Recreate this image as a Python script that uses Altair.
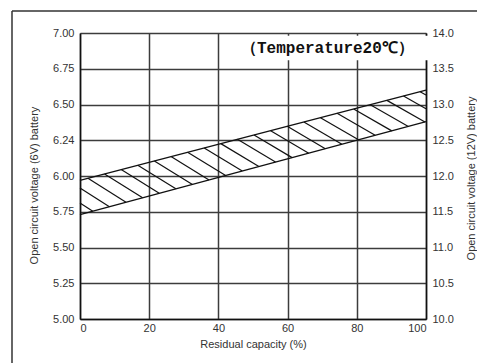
import altair as alt
import numpy as np
import pandas as pd

# Open-circuit voltage band of a 6 V battery against residual capacity
capacity_pct = [0, 100]
upper_6v = [5.97, 6.60]
lower_6v = [5.73, 6.38]

x_ticks = [0, 20, 40, 60, 80, 100]
y_ticks = [5.00, 5.25, 5.50, 5.75, 6.00, 6.25, 6.50, 6.75, 7.00]

title_text = "（Temperature20℃）"

band = pd.DataFrame({"cap": capacity_pct, "upper": upper_6v, "lower": lower_6v})
edges = pd.concat([
    pd.DataFrame({"cap": capacity_pct, "v": upper_6v, "edge": "upper"}),
    pd.DataFrame({"cap": capacity_pct, "v": lower_6v, "edge": "lower"}),
])


def upl(x):
    return upper_6v[0] + (upper_6v[1] - upper_6v[0]) * x / 100


def lo(x):
    return lower_6v[0] + (lower_6v[1] - lower_6v[0]) * x / 100


# Diagonal hatching between the two edges, clipped to the 0-100 % range
hatch_step = 4.8
hatch_run = 11.0
rows = []
for x0 in np.arange(2.3 - 3 * hatch_step, 100, hatch_step):
    x1 = x0 + hatch_run
    y0, y1 = upl(x0), lo(x1)
    t0 = max(0.0, (0 - x0) / hatch_run)
    t1 = min(1.0, (100 - x0) / hatch_run)
    if t0 >= t1:
        continue
    rows.append({
        "xa": x0 + t0 * hatch_run, "ya": y0 + t0 * (y1 - y0),
        "xb": x0 + t1 * hatch_run, "yb": y0 + t1 * (y1 - y0),
    })
hatch = pd.DataFrame(rows)

x_scale = alt.Scale(domain=[0, 100], nice=False, zero=False)
y_scale = alt.Scale(domain=[5, 7], nice=False, zero=False)

grid_color = "#3c3c3c"
label_font = "Liberation Sans"

x_axis = alt.Axis(values=x_ticks, grid=True, gridColor=grid_color, gridWidth=1.5,
                  domainColor="#111", domainWidth=1.5, ticks=False,
                  labelFont=label_font, labelFontSize=11, labelColor="#333",
                  labelPadding=3, title="Residual capacity (%)",
                  titleFont=label_font, titleFontSize=11, titleFontWeight="normal",
                  titleColor="#333", titlePadding=5)

y_left = alt.Axis(values=y_ticks, grid=True, gridColor=grid_color, gridWidth=1.5,
                  domainColor="#111", domainWidth=1.5, ticks=False,
                  labelFont=label_font, labelFontSize=11, labelColor="#333",
                  labelPadding=6,
                  labelExpr="datum.value == 6.25 ? '6.24' : format(datum.value, '.2f')",
                  title="Open circuit voltage (6V) battery",
                  titleFont=label_font, titleFontSize=11, titleFontWeight="normal",
                  titleColor="#333", titleAngle=270, titleX=-46, titleY=152,
                  titleAlign="center", titleBaseline="middle")

y_right = alt.Axis(orient="right", values=y_ticks, grid=False,
                   domainColor="#111", domainWidth=1.5, ticks=False,
                   labelFont=label_font, labelFontSize=11, labelColor="#333",
                   labelPadding=6,
                   labelExpr="format(datum.value * 2, '.1f')",
                   title="Open circuit voltage (12V) battery",
                   titleFont=label_font, titleFontSize=11, titleFontWeight="normal",
                   titleColor="#333", titleAngle=270, titleX=45, titleY=145,
                   titleAlign="center", titleBaseline="middle")

lines = alt.Chart(edges).mark_line(color="#111", strokeWidth=1.3).encode(
    x=alt.X("cap:Q", scale=x_scale, axis=x_axis),
    y=alt.Y("v:Q", scale=y_scale, axis=y_left),
    detail="edge:N",
)

right_axis = alt.Chart(band).mark_line(opacity=0).encode(
    x=alt.X("cap:Q", scale=x_scale, axis=x_axis),
    y=alt.Y("upper:Q", scale=y_scale, axis=y_right),
)

hatches = alt.Chart(hatch).mark_rule(color="#111", strokeWidth=1.2).encode(
    x=alt.X("xa:Q", scale=x_scale, axis=x_axis),
    y=alt.Y("ya:Q", scale=y_scale, axis=None),
    x2="xb:Q",
    y2="yb:Q",
)

label_df = pd.DataFrame({"text": [title_text], "x": [71.5], "y": [6.895],
                         "bx0": [41.5], "bx1": [100.8], "by0": [6.81], "by1": [6.98]})

label_box = alt.Chart(label_df).mark_rect(color="white").encode(
    x=alt.X("bx0:Q", scale=x_scale, axis=x_axis), x2="bx1:Q",
    y=alt.Y("by0:Q", scale=y_scale, axis=None), y2="by1:Q",
)

label = alt.Chart(label_df).mark_text(
    font="Liberation Mono", fontWeight="bold", fontSize=16, color="#111",
    align="center", baseline="middle",
).encode(
    x=alt.X("x:Q", scale=x_scale, axis=x_axis),
    y=alt.Y("y:Q", scale=y_scale, axis=None),
    text="text:N",
)

frame_src = alt.Data(values=[{"k": 0}])
frame_left = alt.Chart(frame_src).mark_rule(color="#333", strokeWidth=1.5).encode(
    x=alt.value(-68), y=alt.value(-22), y2=alt.value(340))
frame_top = alt.Chart(frame_src).mark_rule(color="#333", strokeWidth=1.5).encode(
    x=alt.value(-68), x2=alt.value(410), y=alt.value(-22))

chart = alt.layer(
    lines, right_axis, hatches, label_box, label, frame_left, frame_top
).resolve_axis(y="independent").properties(
    width=346, height=286,
    padding={"left": 80, "top": 33, "right": 51, "bottom": 44},
    autosize=alt.AutoSizeParams(type="none"),
    background="white",
).configure_view(stroke=None)

chart.save("out.html", embed_options={"renderer": "svg", "actions": False})
